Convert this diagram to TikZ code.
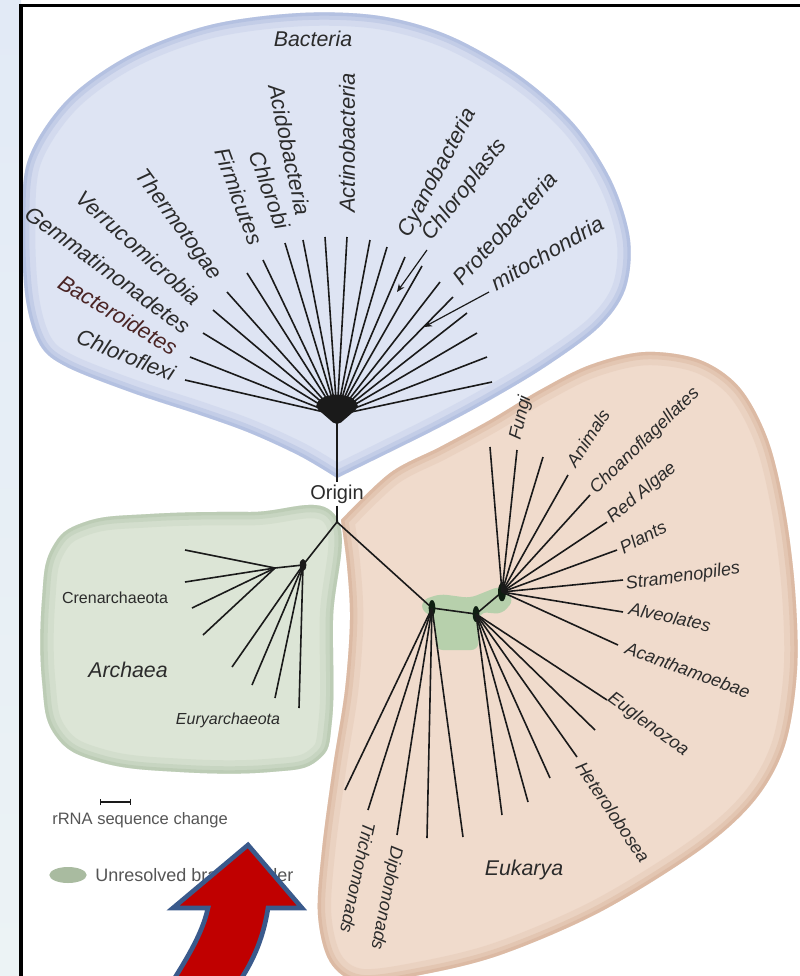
\documentclass[tikz,border=0pt]{standalone}
\usepackage{fontspec}
\setmainfont{Liberation Sans}
\usetikzlibrary{arrows.meta,shapes.geometric}
\definecolor{bfill}{HTML}{DEE4F3}
\definecolor{brim}{HTML}{A7B6DC}
\definecolor{gfill}{HTML}{DCE5D6}
\definecolor{grim}{HTML}{B2C5AB}
\definecolor{pfill}{HTML}{F0DBCC}
\definecolor{prim}{HTML}{D6B097}
\definecolor{unres}{HTML}{B7D0AC}
\definecolor{txtc}{HTML}{2B2B2B}
\definecolor{linec}{HTML}{1A1A1A}
\definecolor{arrred}{HTML}{C00000}
\definecolor{arrblue}{HTML}{3A5A8C}
\definecolor{legg}{HTML}{A9BBA0}
\definecolor{maroonish}{HTML}{4A2424}
\definecolor{darkj}{HTML}{0F1F12}
\newcommand{\blobBac}{plot[smooth, tension=0.55] coordinates {(337,478) (300,456) (250,433) (200,415) (133,393) (67,367) (40,345) (26,300) (22,230) (28,160) (67,100) (130,55) (210,25) (300,13) (380,16) (450,36) (520,76) (575,125) (612,182) (630,240) (625,290) (598,328) (545,367) (490,400) (440,427) (390,452) (337,478)} -- cycle}
\newcommand{\blobArc}{plot[smooth cycle, tension=0.7] coordinates {(335,515) (250,512) (150,514) (85,522) (52,548) (42,600) (42,680) (55,735) (100,762) (180,772) (270,772) (318,760) (332,720) (333,620)}}
\newcommand{\blobEuk}{plot[smooth, tension=0.55] coordinates {(341,520) (390,473) (440,447) (490,420) (540,390) (590,365) (645,352) (700,360) (740,388) (768,440) (785,510) (795,590) (797,670) (785,745) (755,800) (700,850) (600,912) (500,955) (420,975) (360,982) (330,962) (318,915) (322,850) (333,767) (345,690) (350,620) (347,565) (341,520)} -- cycle}
\tikzset{
  branch/.style={draw=linec, line width=1.2pt},
  blab/.style={font=\fontsize{16.5}{18}\selectfont\itshape, text=txtc, inner sep=0pt},
  elab/.style={font=\fontsize{13.5}{15}\selectfont\itshape, text=txtc, inner sep=0pt},
  alab/.style={font=\fontsize{12}{14}\selectfont, text=txtc, inner sep=0pt},
  glab/.style={font=\fontsize{16}{18}\selectfont\itshape, text=txtc, inner sep=0pt},
  leglab/.style={font=\fontsize{12.4}{14}\selectfont, text=txtc!80, inner sep=0pt},
}
\begin{document}
\begin{tikzpicture}[x=0.75pt,y=-0.75pt]
\useasboundingbox (0,0) rectangle (800,976);
\clip (0,0) rectangle (800,976);
% background
\fill[white] (0,0) rectangle (800,976);
\shade[top color={rgb,255:red,226;green,234;blue,246}, middle color={rgb,255:red,245;green,243;blue,236}, bottom color={rgb,255:red,236;green,243;blue,245}] (0,0) rectangle (21,976);
% blobs
\path[fill=bfill] \blobBac;
\begin{scope}\clip \blobBac;
  \draw[brim, line width=20pt, opacity=.2] \blobBac;
  \draw[brim, line width=11pt, opacity=.35] \blobBac;
  \draw[brim, line width=5pt, opacity=.5] \blobBac;
\end{scope}
\path[fill=gfill] \blobArc;
\begin{scope}\clip \blobArc;
  \draw[grim, line width=20pt, opacity=.2] \blobArc;
  \draw[grim, line width=11pt, opacity=.35] \blobArc;
  \draw[grim, line width=5pt, opacity=.5] \blobArc;
\end{scope}
\path[fill=pfill] \blobEuk;
\begin{scope}\clip \blobEuk;
  \draw[prim, line width=20pt, opacity=.2] \blobEuk;
  \draw[prim, line width=11pt, opacity=.35] \blobEuk;
  \draw[prim, line width=5pt, opacity=.5] \blobEuk;
\end{scope}
% unresolved branch order shading
\fill[unres, rounded corners=5pt] (422,600) -- (440,594) -- (470,598) -- (500,586) -- (514,600) -- (502,614) -- (480,612) -- (478,650) -- (436,650) -- (434,616) -- (422,612) -- cycle;

% ---------- Bacteria ----------
\coordinate (bc) at (337,415);
\coordinate (origin) at (337,522);
\fill[linec, rounded corners=4pt] (337,426) -- (314,406) -- (322,397) -- (337,394) -- (352,397) -- (360,406) -- cycle;
\coordinate (b1) at (185,380);
\coordinate (b2) at (190,357);
\coordinate (b3) at (203,333);
\coordinate (b4) at (213,310);
\coordinate (b5) at (227,292);
\coordinate (b6) at (247,273);
\coordinate (b7) at (263,260);
\coordinate (b8) at (285,243);
\coordinate (b9) at (303,240);
\coordinate (b10) at (325,237);
\coordinate (b11) at (347,237);
\coordinate (b12) at (370,240);
\coordinate (b13) at (387,247);
\coordinate (b14) at (405,257);
\coordinate (b15) at (422,266);
\coordinate (b16) at (440,282);
\coordinate (b17) at (453,297);
\coordinate (b18) at (467,313);
\coordinate (b19) at (477,333);
\coordinate (b20) at (487,357);
\coordinate (b21) at (492,382);
\foreach \i in {1,...,21} \draw[branch] (bc) -- (b\i);

\node[glab] (lbac) at (313,39) {Bacteria};
\node[blab, rotate=-22] (l1) at (126,355) {Chloroflexi};
\node[blab, rotate=-31, text=maroonish] (l2) at (118,315) {Bacteroidetes};
\node[blab, rotate=-36.5] (l3) at (108,270) {Gemmatimonadetes};
\node[blab, rotate=-42] (l4) at (139,248) {Verrucomicrobia};
\node[blab, rotate=-54] (l5) at (178,225) {Thermotogae};
\node[blab, rotate=-70] (l6) at (239,196) {Firmicutes};
\node[blab, rotate=-70] (l7) at (270,190) {Chlorobi};
\node[blab, rotate=-78] (l8) at (290,150) {Acidobacteria};
\node[blab, rotate=90] (l9) at (347,143) {Actinobacteria};
\node[blab, rotate=62] (l10) at (438,173) {Cyanobacteria};
\node[blab, rotate=52] (l11) at (465,190) {Chloroplasts};
\node[blab, rotate=48] (l12) at (505,228) {Proteobacteria};
\node[blab, rotate=30] (l13) at (547,253) {mitochondria};
\coordinate (cpa) at (427,250);
\coordinate (cpb) at (397,292);
\coordinate (mta) at (489,292);
\coordinate (mtb) at (424,327);
\draw[branch, line width=0.9pt, -{Stealth[length=6pt,width=5pt]}] (cpa) -- (cpb);
\draw[branch, line width=0.9pt, -{Stealth[length=6pt,width=5pt]}] (mta) -- (mtb);

% ---------- Origin ----------
\node[font=\fontsize{15}{16}\selectfont, text=txtc, inner sep=1.5pt] (orig) at (337,494) {Origin};
\draw[branch] (bc) -- (orig.north);
\draw[branch] (orig.south) -- (origin);

% ---------- Archaea ----------
\coordinate (a1) at (303,565);
\coordinate (a2) at (275,568);
\fill[linec] (a1) ellipse [x radius=2.5pt, y radius=4.5pt];
\draw[branch] (origin) -- (a1);
\draw[branch] (a1) -- (a2);
\coordinate (c1) at (185,550);
\coordinate (c2) at (185,582);
\coordinate (c3) at (192,608);
\coordinate (c4) at (203,635);
\coordinate (d1) at (232,667);
\coordinate (d2) at (252,685);
\coordinate (d3) at (275,698);
\coordinate (d4) at (299,708);
\foreach \i in {1,...,4} \draw[branch] (a2) -- (c\i);
\foreach \i in {1,...,4} \draw[branch] (a1) -- (d\i);
\node[alab] (lcren) at (115,598) {Crenarchaeota};
\node[glab] (larc) at (128,670) {Archaea};
\node[alab, font=\fontsize{12}{14}\selectfont\itshape] (leury) at (228,720) {Euryarchaeota};

% ---------- Eukarya ----------
\coordinate (e1) at (432,608);
\coordinate (e2) at (476,614);
\coordinate (e3) at (502,592);
\draw[branch] (origin) -- (e1);
\draw[branch] (e1) -- (e2) -- (e3);
\fill[darkj] (e1) ellipse [x radius=2.5pt, y radius=6pt];
\fill[darkj] (e2) ellipse [x radius=2.5pt, y radius=6pt];
\fill[darkj] (e3) ellipse [x radius=3pt, y radius=7pt];
% upper fan
\coordinate (u1) at (490,447);
\coordinate (u2) at (517,450);
\coordinate (u3) at (543,457);
\coordinate (u4) at (568,475);
\coordinate (u5) at (590,495);
\coordinate (u6) at (607,522);
\coordinate (u7) at (617,550);
\coordinate (u8) at (623,580);
\coordinate (u9) at (623,612);
\coordinate (u10) at (618,645);
\foreach \i in {1,...,10} \draw[branch] (e3) -- (u\i);
% lower right fan
\coordinate (r1) at (607,700);
\coordinate (r2) at (595,730);
\coordinate (r3) at (577,757);
\coordinate (r4) at (550,778);
\coordinate (r5) at (528,802);
\coordinate (r6) at (502,815);
\foreach \i in {1,...,6} \draw[branch] (e2) -- (r\i);
% lower left fan
\coordinate (g1) at (345,790);
\coordinate (g2) at (368,810);
\coordinate (g3) at (397,835);
\coordinate (g4) at (427,838);
\coordinate (g5) at (463,837);
\foreach \i in {1,...,5} \draw[branch] (e1) -- (g\i);

\node[elab, rotate=77] (lfun) at (521,418) {Fungi};
\node[elab, rotate=57] (lani) at (588,438) {Animals};
\node[elab, rotate=44] (lcho) at (645,441) {Choanoflagellates};
\node[elab, rotate=40] (lred) at (642,493) {Red Algae};
\node[elab, rotate=28] (lpla) at (643,537) {Plants};
\node[elab, rotate=8] (lstr) at (683,577) {Stramenopiles};
\node[elab, rotate=-12] (lalv) at (670,617) {Alveolates};
\node[elab, rotate=-20] (laca) at (688,670) {Acanthamoebae};
\node[elab, rotate=-36] (leug) at (648,725) {Euglenozoa};
\node[elab, rotate=-56] (lhet) at (613,812) {Heterolobosea};
\node[elab, rotate=-102] (ltri) at (358,878) {Trichomonads};
\node[elab, rotate=-101] (ldip) at (386,898) {Diplomonads};
\node[glab] (leuk) at (524,870) {Eukarya};

% ---------- Legend ----------
\coordinate (sb1) at (100,802);
\coordinate (sb2) at (131,802);
\draw[linec, line width=1pt, {Bar[width=5pt]}-{Bar[width=5pt]}] (sb1) -- (sb2);
\node[leglab, anchor=west] (lrrna) at (52,820) {rRNA sequence change};
\node[ellipse, fill=legg, draw=none, minimum width=28pt, minimum height=12pt, inner sep=0pt] (lell) at (68,875) {};
\node[leglab, anchor=west, font=\fontsize{13.5}{15}\selectfont] (lunr) at (95,875) {Unresolved branch order};

% ---------- red arrow ----------
\path[fill=arrred, draw=arrblue, line width=3.5pt, line join=miter] (166,992) .. controls (186,960) and (202,935) .. (208,908) -- (173,908) -- (248,845) -- (302,908) -- (268,908) .. controls (263,940) and (252,965) .. (232,992) -- cycle;

% ---------- frame ----------
\draw[black, line width=2.4pt] (21,980) -- (21,5.5) -- (805,5.5);
\end{tikzpicture}
\end{document}
